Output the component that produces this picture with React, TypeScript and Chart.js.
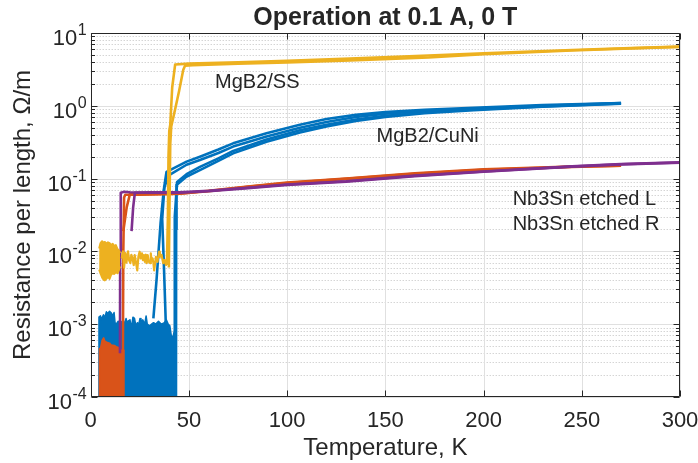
import React, { useEffect, useRef } from "react";
import { Chart, registerables } from "chart.js";

Chart.register(...registerables);

const FONT = '"Liberation Sans", Arial, Helvetica, sans-serif';
const TEXT = "#262626";
const BLUE = "#0072BD";
const ORANGE = "#D95319";
const YELLOW = "#EDB120";
const PURPLE = "#7E2F8E";

const titleText = "Operation at 0.1 A, 0 T";
const xLabel = "Temperature, K";
const yLabel = "Resistance per length, \u03A9/m";
const xTicks = [0, 50, 100, 150, 200, 250, 300];
const yDecades = [-4, -3, -2, -1, 0, 1];

// MgB2/CuNi (blue) — low temperature noise envelope
const cuNiNoiseT = [4.1, 4.2, 5.0, 5.4, 5.8, 6.5, 7.0, 7.4, 8.0, 8.5, 9.0, 9.6, 10.5, 11.2, 11.9, 12.4, 13.0, 14.0, 14.7, 16.0, 17.3, 18.0, 18.6, 19.0, 20.0, 20.5, 21.0, 21.5, 22.3, 23.0, 23.8, 24.5, 25.1, 25.6, 26.5, 27.5, 28.2, 28.8, 30.0, 31.0, 32.0, 33.0, 34.5, 36.0, 37.5, 38.5, 39.5, 40.3, 41.0, 41.8, 42.5, 42.9, 43.0];
const cuNiNoiseR = [1e-4, 1.25e-3, 1.3e-3, 1.15e-3, 1.22e-3, 1.35e-3, 1.25e-3, 1.3e-3, 1.48e-3, 1.4e-3, 1.45e-3, 1.5e-3, 1.42e-3, 1.3e-3, 1.45e-3, 1.05e-3, 1.0e-3, 1.1e-3, 1.0e-3, 1.1e-3, 1.05e-3, 1.2e-3, 1.0e-3, 1.1e-3, 1.15e-3, 9.5e-4, 1.0e-3, 1.25e-3, 1.2e-3, 9.5e-4, 1.05e-3, 1.0e-3, 1.2e-3, 1.05e-3, 1.15e-3, 1.0e-3, 1.3e-3, 1.0e-3, 9.5e-4, 1.0e-3, 1.05e-3, 1.0e-3, 1.1e-3, 1.0e-3, 1.05e-3, 1.15e-3, 1.0e-3, 9.5e-4, 7e-4, 6.5e-4, 8e-4, 8e-4, 1e-4];
// MgB2/CuNi traces
const cuNiAT = [31.9, 33.5, 35.6, 37.2, 38.6, 48.8, 55.6, 65, 72.5, 89.5, 106.5, 120, 135, 150, 170, 195, 230, 270];
const cuNiAR = [1.2e-3, 4e-3, 0.025, 0.07, 0.124, 0.171, 0.2, 0.251, 0.305, 0.419, 0.55, 0.66, 0.75, 0.82, 0.88, 0.94, 1.02, 1.09];
const cuNiBT = [38.3, 37.3, 36.4, 37.5, 39.5, 48.8, 55.6, 65, 72.5, 89.5, 106.5, 120, 135, 150, 170, 195, 230, 270];
const cuNiBR = [9e-4, 6e-3, 0.028, 0.075, 0.11, 0.155, 0.18, 0.225, 0.275, 0.38, 0.5, 0.6, 0.7, 0.78, 0.85, 0.92, 1.0, 1.09];
const cuNiCT = [42.5, 42.8, 44.0, 48.8, 55.6, 65, 72.5, 89.5, 106.5, 120, 135, 150, 170, 195, 230, 270];
const cuNiCR = [8e-4, 0.03, 0.09, 0.115, 0.145, 0.19, 0.24, 0.345, 0.46, 0.55, 0.65, 0.73, 0.81, 0.89, 0.98, 1.08];
const cuNiDT = [43.4, 43.5, 43.7, 48.7, 55.6, 65, 72.5, 89.5, 106.5, 120, 135, 150, 170, 195, 230, 270];
const cuNiDR = [5e-5, 0.02, 0.082, 0.106, 0.131, 0.175, 0.222, 0.321, 0.43, 0.52, 0.62, 0.7, 0.79, 0.87, 0.97, 1.07];

// MgB2/SS (yellow) — low temperature noise blob (upper / lower envelope)
const ssBlobT = [4.3, 5.0, 5.8, 6.5, 7.2, 8.0, 8.8, 9.6, 10.4, 11.2, 12.0, 12.8, 13.6, 14.4, 15.0];
const ssBlobHigh = [1.1e-2, 1.3e-2, 1.38e-2, 1.32e-2, 1.35e-2, 1.28e-2, 1.33e-2, 1.3e-2, 1.22e-2, 1.27e-2, 1.18e-2, 1.22e-2, 1.08e-2, 1.02e-2, 9.5e-3];
const ssBlobLow = [5.6e-3, 5.0e-3, 4.4e-3, 4.1e-3, 4.0e-3, 4.2e-3, 4.5e-3, 4.2e-3, 4.8e-3, 5.0e-3, 4.9e-3, 5.2e-3, 5.0e-3, 5.6e-3, 6.2e-3];
// MgB2/SS noise line
const ssNoiseT = [15.8, 16.4, 17.0, 17.6, 18.2, 19.0, 19.6, 20.2, 20.7, 21.3, 21.9, 22.4, 23.0, 23.7, 24.3, 24.9, 25.5, 26.1, 26.6, 27.1, 27.6, 28.1, 28.5, 29.0, 29.6, 30.2, 30.6, 31.0, 31.5, 31.9, 32.3, 32.7, 33.2, 33.6, 34.0, 34.4, 34.8, 35.2, 35.7, 36.1, 36.5, 36.9, 37.4, 37.8, 38.3, 38.8];
const ssNoiseR = [8e-3, 1.0e-2, 6e-3, 9.5e-3, 7e-3, 1.0e-2, 7.5e-3, 6.9e-3, 9e-3, 8e-3, 6.5e-3, 8.9e-3, 7.2e-3, 5.5e-3, 8.5e-3, 9.9e-3, 8e-3, 9.4e-3, 7.6e-3, 8.9e-3, 7.2e-3, 9e-3, 6.9e-3, 8.9e-3, 7.2e-3, 6.9e-3, 9.4e-3, 7.5e-3, 8e-3, 7e-3, 5.5e-3, 5.5e-3, 8.4e-3, 7.5e-3, 7.2e-3, 8.5e-3, 9.9e-3, 8.4e-3, 9e-3, 8.9e-3, 7.8e-3, 6.9e-3, 7.6e-3, 7.2e-3, 6.5e-3, 6.5e-3];
// MgB2/SS traces
const ssAT = [38.8, 39.3, 39.6, 40.0, 40.5, 41.5, 43, 50, 75, 100, 132, 172, 200, 245, 275, 300];
const ssAR = [6.5e-3, 0.03, 0.2, 0.45, 0.55, 1.8, 3.7, 3.8, 3.95, 4.15, 4.45, 4.9, 5.25, 5.85, 6.2, 6.5];
const ssBT = [39.8, 40.1, 40.5, 41.0, 42.9, 45, 47.1, 48, 52, 75, 100, 132, 172, 200, 245, 275, 300];
const ssBR = [6e-3, 0.04, 0.3, 0.52, 0.875, 1.6, 3.1, 3.55, 3.6, 3.8, 3.95, 4.2, 4.6, 5.1, 5.75, 6.15, 6.45];

// Nb3Sn etched L (orange)
const nbLNoiseT = [4.4, 4.45, 5.0, 5.8, 6.6, 7.3, 8.5, 9.6, 10.4, 12.0, 13.0, 14.7, 15.8, 16.9, 16.95];
const nbLNoiseR = [1e-4, 4.6e-4, 4.7e-4, 6.0e-4, 6.5e-4, 5.8e-4, 5.6e-4, 5.5e-4, 5.2e-4, 5.1e-4, 4.9e-4, 4.7e-4, 4.3e-4, 4.4e-4, 1e-4];
const nbLAT = [16.4, 16.6, 17.0, 17.6, 25, 35, 45, 60, 80, 100, 130, 165, 200, 245, 270];
const nbLAR = [4.4e-4, 0.01, 0.055, 0.06, 0.06, 0.061, 0.062, 0.068, 0.078, 0.088, 0.1, 0.118, 0.134, 0.146, 0.15];
const nbLBT = [16.6, 18.3, 20, 22, 30, 45, 60, 80, 100, 130, 165, 200, 245, 270];
const nbLBR = [0.019, 0.04, 0.062, 0.061, 0.061, 0.062, 0.067, 0.077, 0.087, 0.099, 0.116, 0.132, 0.145, 0.15];

// Nb3Sn etched R (purple)
const nbRAT = [14.9, 15.0, 15.3, 17, 20, 30, 45, 60, 80, 100, 130, 165, 200, 245, 270, 300];
const nbRAR = [4e-4, 0.01, 0.064, 0.066, 0.065, 0.064, 0.064, 0.067, 0.074, 0.082, 0.091, 0.108, 0.124, 0.146, 0.157, 0.166];
const nbRBT = [20.8, 21.6, 22.5, 30, 45, 60, 80, 100, 130, 165, 200, 245, 270, 300];
const nbRBR = [0.019, 0.04, 0.064, 0.065, 0.065, 0.068, 0.075, 0.083, 0.092, 0.11, 0.125, 0.147, 0.158, 0.167];

// Text annotations (data coordinates, left edge / vertical centre)
const noteText = ["MgB2/SS", "MgB2/CuNi", "Nb3Sn etched L", "Nb3Sn etched R"];
const noteT = [63.3, 145.5, 214.8, 214.8];
const noteR = [2.16, 0.397, 0.0536, 0.0243];

const pts = (t: number[], r: number[]) => t.map((v, i) => ({ x: v, y: r[i] }));

function line(t: number[], r: number[], color: string, order: number, extra: any = {}) {
  return {
    data: pts(t, r),
    borderColor: color,
    backgroundColor: color,
    borderWidth: 2.6,
    pointRadius: 0,
    fill: false,
    tension: 0,
    borderJoinStyle: "round",
    order,
    ...extra,
  };
}

const axesPlugin = {
  id: "matlabAxes",
  beforeDatasetsDraw(chart: any) {
    const { ctx, chartArea: a, scales } = chart;
    const xs = scales.x;
    const ys = scales.y;
    ctx.save();
    ctx.lineWidth = 1;
    const hl = (py: number) => {
      const p = Math.round(py) + 0.5;
      ctx.beginPath();
      ctx.moveTo(a.left, p);
      ctx.lineTo(a.right, p);
      ctx.stroke();
    };
    ctx.strokeStyle = "#c2c2c2";
    ctx.setLineDash([1, 2]);
    for (let i = 0; i < yDecades.length - 1; i++) {
      for (let k = 2; k <= 9; k++) hl(ys.getPixelForValue(k * Math.pow(10, yDecades[i])));
    }
    ctx.setLineDash([]);
    ctx.strokeStyle = "#e0e0e0";
    for (const d of yDecades) hl(ys.getPixelForValue(Math.pow(10, d)));
    for (const t of xTicks) {
      const p = Math.round(xs.getPixelForValue(t)) + 0.5;
      ctx.beginPath();
      ctx.moveTo(p, a.top);
      ctx.lineTo(p, a.bottom);
      ctx.stroke();
    }
    ctx.restore();
  },
  afterDatasetsDraw(chart: any) {
    const { ctx, chartArea: a, scales } = chart;
    const xs = scales.x;
    const ys = scales.y;
    ctx.save();
    ctx.strokeStyle = TEXT;
    ctx.lineWidth = 1;
    const L = Math.round(a.left) + 0.5;
    const R = Math.round(a.right) - 0.5;
    const T = Math.round(a.top) + 0.5;
    const B = Math.round(a.bottom) - 0.5;
    ctx.beginPath();
    ctx.rect(L, T, R - L, B - T);
    ctx.stroke();
    ctx.beginPath();
    for (let i = 0; i < yDecades.length; i++) {
      const p = Math.round(ys.getPixelForValue(Math.pow(10, yDecades[i]))) + 0.5;
      ctx.moveTo(L, p); ctx.lineTo(L + 6, p);
      ctx.moveTo(R, p); ctx.lineTo(R - 6, p);
      if (i < yDecades.length - 1) {
        for (let k = 2; k <= 9; k++) {
          const q = Math.round(ys.getPixelForValue(k * Math.pow(10, yDecades[i]))) + 0.5;
          ctx.moveTo(L, q); ctx.lineTo(L + 3.5, q);
          ctx.moveTo(R, q); ctx.lineTo(R - 3.5, q);
        }
      }
    }
    for (const t of xTicks) {
      const p = Math.round(xs.getPixelForValue(t)) + 0.5;
      ctx.moveTo(p, B); ctx.lineTo(p, B - 6);
      ctx.moveTo(p, T); ctx.lineTo(p, T + 6);
    }
    ctx.stroke();

    ctx.fillStyle = TEXT;
    ctx.textBaseline = "alphabetic";
    ctx.font = `22px ${FONT}`;
    ctx.textAlign = "center";
    for (const t of xTicks) {
      ctx.fillText(String(t), xs.getPixelForValue(t), a.bottom + 30);
    }
    const rightEdge = a.left - 4;
    for (const d of yDecades) {
      const py = ys.getPixelForValue(Math.pow(10, d));
      const exp = d < 0 ? "-" + String(-d) : String(d);
      ctx.font = `16px ${FONT}`;
      ctx.textAlign = "left";
      const ew = ctx.measureText(exp).width;
      ctx.fillText(exp, rightEdge - ew, py + 2);
      ctx.font = `22px ${FONT}`;
      ctx.textAlign = "right";
      ctx.fillText("10", rightEdge - ew - 0.5, py + 12);
    }

    ctx.font = `20px ${FONT}`;
    ctx.textAlign = "left";
    for (let i = 0; i < noteText.length; i++) {
      ctx.fillText(noteText[i], xs.getPixelForValue(noteT[i]), ys.getPixelForValue(noteR[i]) + 7);
    }
    ctx.restore();
  },
};

export default function App() {
  const ref = useRef<HTMLCanvasElement>(null);
  useEffect(() => {
    const datasets: any[] = [
      line(cuNiNoiseT, cuNiNoiseR, BLUE, 50, { fill: "start", borderWidth: 1.5 }),
      line(cuNiAT, cuNiAR, BLUE, 49),
      line(cuNiBT, cuNiBR, BLUE, 48),
      line(cuNiCT, cuNiCR, BLUE, 47),
      line(cuNiDT, cuNiDR, BLUE, 46),
      line(nbLNoiseT, nbLNoiseR, ORANGE, 40, { fill: "start", borderWidth: 1.5 }),
      line(nbLAT, nbLAR, ORANGE, 39),
      line(nbLBT, nbLBR, ORANGE, 38),
      line(nbRAT, nbRAR, PURPLE, 30),
      line(nbRBT, nbRBR, PURPLE, 29),
      line(ssBlobT, ssBlobHigh, YELLOW, 20, { fill: "+1", borderWidth: 2 }),
      line(ssBlobT, ssBlobLow, YELLOW, 20, { borderWidth: 2 }),
      line(ssNoiseT, ssNoiseR, YELLOW, 19, { borderWidth: 2.2 }),
      line(ssAT, ssAR, YELLOW, 18),
      line(ssBT, ssBR, YELLOW, 17),
    ];
    const chart = new Chart(ref.current!, {
      type: "line",
      data: { datasets },
      plugins: [axesPlugin as any],
      options: {
        responsive: false,
        devicePixelRatio: 1,
        animation: false,
        layout: { padding: { left: 0, right: 18, top: 0, bottom: 0 } },
        plugins: {
          legend: { display: false },
          tooltip: { enabled: false },
          title: {
            display: true,
            text: titleText,
            color: TEXT,
            fullSize: false,
            font: { family: FONT, size: 25, weight: "bold", lineHeight: 1.2 },
            padding: { top: 3, bottom: 0 },
          },
        },
        scales: {
          x: {
            type: "linear",
            min: 0,
            max: 300,
            grid: { display: false, drawTicks: false },
            border: { display: false },
            ticks: { display: false },
            title: {
              display: true,
              text: xLabel,
              color: TEXT,
              font: { family: FONT, size: 24, lineHeight: 1.2 },
              padding: { top: 0, bottom: 0.2 },
            },
            afterFit(s: any) { s.height = 66; },
          },
          y: {
            type: "logarithmic",
            min: 1e-4,
            max: 10,
            grid: { display: false, drawTicks: false },
            border: { display: false },
            ticks: { display: false },
            title: {
              display: true,
              text: yLabel,
              color: TEXT,
              font: { family: FONT, size: 24, lineHeight: 1.2 },
              padding: { top: 9, bottom: 0 },
            },
            afterFit(s: any) { s.width = 90.7; },
          },
        },
      } as any,
    });
    return () => chart.destroy();
  }, []);
  return (
    <div style={{ position: "absolute", left: 0, top: 0, width: 698, height: 463, background: "#fff" }}>
      <canvas ref={ref} width={698} height={463} />
    </div>
  );
}
